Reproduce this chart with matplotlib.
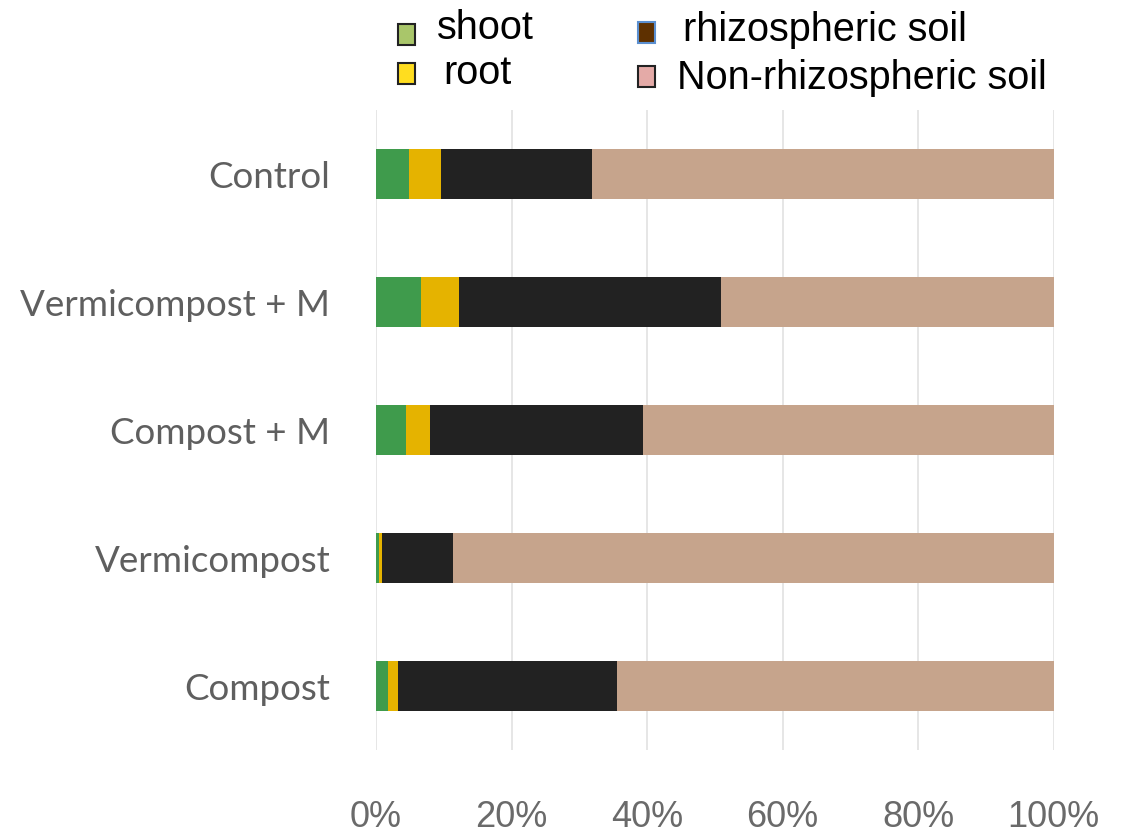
import matplotlib
matplotlib.use("Agg")
import matplotlib.pyplot as plt
from matplotlib.patches import Rectangle
import numpy as np

categories = ["Control", "Vermicompost + M", "Compost + M", "Vermicompost", "Compost"]
shoot = [4.8, 6.7, 4.4, 0.45, 1.8]
root = [4.8, 5.5, 3.6, 0.45, 1.4]
rhizo = [22.3, 38.7, 31.4, 10.5, 32.3]
nonrhizo = [68.1, 49.1, 60.6, 88.6, 64.5]
series = [shoot, root, rhizo, nonrhizo]
bar_colors = ["#3F9B4C", "#E5B300", "#222222", "#C6A48C"]
legend_labels = ["shoot", "root", "rhizospheric soil", "Non-rhizospheric soil"]
legend_colors = ["#A9C66A", "#FFDD1F", "#5E3000", "#E4AAA7"]
legend_edges = ["#222222", "#222222", "#5B8FD0", "#222222"]
xticks = [0, 20, 40, 60, 80, 100]
xticklabels = ["0%", "20%", "40%", "60%", "80%", "100%"]

W, H = 1121, 834
fig = plt.figure(figsize=(W / 100, H / 100), dpi=100)
fig.patch.set_facecolor("white")

def fx(px):
    return px / W

def fy(py):
    return 1 - py / H

ax = fig.add_axes([fx(376), fy(750), fx(1053.5) - fx(376), fy(110) - fy(750)])
y = np.arange(len(categories))
left = np.zeros(len(categories))
for vals, col in zip(series, bar_colors):
    ax.barh(y, vals, left=left, height=0.39, color=col, zorder=3)
    left += np.array(vals)

ax.set_xlim(0, 100)
ax.set_ylim(len(categories) - 0.5, -0.5)
ax.set_xticks(xticks)
ax.set_xticklabels(xticklabels, fontsize=26, color="#6a6a6a",
                   family=["Liberation Sans", "DejaVu Sans"])
ax.set_yticks(y)
ax.set_yticklabels(categories, fontsize=26.5, color="#5f5f5f", family=["Lato", "DejaVu Sans"])
for lbl in ax.get_yticklabels():
    lbl.set_va("center_baseline")
ax.tick_params(axis="both", length=0)
ax.tick_params(axis="x", pad=36)
ax.tick_params(axis="y", pad=33)
for s in ax.spines.values():
    s.set_visible(False)
ax.grid(axis="x", color="#e2e2e2", linewidth=1.2, zorder=0)
ax.set_axisbelow(True)

# legend (manual)
patch_pos = [(398, 24), (398, 63), (638, 22), (638, 66)]
text_pos = [(437, 28), (443, 73), (683, 30), (677, 78)]
for (px, py), (tx, ty), lab, fc, ec in zip(patch_pos, text_pos, legend_labels, legend_colors, legend_edges):
    fig.patches.append(Rectangle((fx(px), fy(py + 21)), fx(17), 21 / H, transform=fig.transFigure,
                                 facecolor=fc, edgecolor=ec, linewidth=1.5))
    fig.text(fx(tx), fy(ty), lab, fontsize=28.5, color="black", va="center", ha="left",
             family=["Liberation Sans", "DejaVu Sans"])

fig.savefig("out.png", dpi=100, facecolor="white")
